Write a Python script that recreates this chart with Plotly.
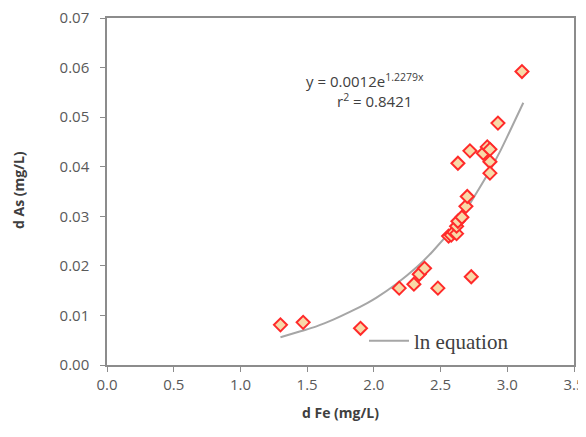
import plotly.graph_objects as go

# Observed data points (d Fe, d As)
fe = [1.30, 1.47, 1.90,
      2.19, 2.30, 2.34, 2.38, 2.48, 2.73,
      2.56, 2.58, 2.60, 2.62, 2.62, 2.63, 2.66, 2.69, 2.70,
      2.63, 2.72, 2.82, 2.85, 2.87, 2.87, 2.87,
      2.93, 3.11]
as_ = [0.0081, 0.0086, 0.0074,
       0.0155, 0.0163, 0.0183, 0.0195, 0.0155, 0.0178,
       0.0260, 0.0262, 0.0268, 0.0265, 0.0280, 0.0290, 0.0298, 0.0320, 0.0340,
       0.0407, 0.0432, 0.0427, 0.0440, 0.0435, 0.0410, 0.0387,
       0.0488, 0.0592]

# Trend line samples
trend_x = [1.30, 1.45, 1.57, 1.70, 1.82, 1.95, 2.02, 2.17, 2.32, 2.44, 2.59, 2.70, 2.78, 2.87, 2.95, 3.02, 3.12]
trend_y = [0.0056, 0.0068, 0.0078, 0.0092, 0.0107, 0.0125, 0.0136, 0.0164, 0.0197, 0.0229, 0.0276, 0.0317, 0.0352, 0.0393, 0.0433, 0.0472, 0.0529]

x_ticks = [0.0, 0.5, 1.0, 1.5, 2.0, 2.5, 3.0, 3.5]
x_tick_labels = ["0.0", "0.5", "1.0", "1.5", "2.0", "2.5", "3.0", "3.5"]
y_ticks = [0.00, 0.01, 0.02, 0.03, 0.04, 0.05, 0.06, 0.07]
y_tick_labels = ["0.00", "0.01", "0.02", "0.03", "0.04", "0.05", "0.06", "0.07"]

# target plot area in window pixels; page body has an 8px margin
OFF = 8
L, R, T, B = 107, 574, 18, 365
W, H = R - L, B - T
FIG_W, FIG_H = 586 - OFF, 437 - OFF

fig = go.Figure()
fig.add_trace(go.Scatter(
    x=trend_x, y=trend_y, mode="lines", name="ln equation",
    line=dict(color="#a6a6a6", width=2, shape="spline"),
    showlegend=True,
))
fig.add_trace(go.Scatter(
    x=fe, y=as_, mode="markers", name="data",
    marker=dict(symbol="diamond", size=10, color="#f8d9a8",
                line=dict(color="#ff2a2a", width=2)),
    showlegend=False,
))

axis_common = dict(
    showgrid=False, zeroline=False, showline=True, linecolor="#8c8c8c",
    linewidth=1.5, mirror=True, ticks="outside", ticklen=5, tickcolor="#8c8c8c",
    tickfont=dict(family="Open Sans", size=15, color="#595959"),
    automargin=False, ticklabeloverflow="allow",
)

fig.update_layout(
    width=FIG_W, height=FIG_H,
    margin=dict(l=L - OFF, r=FIG_W + OFF - R, t=T - OFF, b=FIG_H + OFF - B),
    plot_bgcolor="white", paper_bgcolor="white",
    xaxis=dict(range=[0, 3.5], tickvals=x_ticks, ticktext=x_tick_labels, **axis_common),
    yaxis=dict(range=[0, 0.07], tickvals=y_ticks, ticktext=y_tick_labels,
               ticklabelstandoff=8, **axis_common),
    legend=dict(x=(364 - L) / W, y=(B - 341) / H, xanchor="left", yanchor="middle",
                bgcolor="rgba(0,0,0,0)", itemwidth=40,
                font=dict(family="Liberation Serif", size=21, color="#404040")),
    showlegend=True,
)

title_font = dict(family="Open Sans", size=14, color="#404040")
fig.add_annotation(x=(340 - L) / W, y=(B - 412) / H, xref="paper", yref="paper",
                   xanchor="center", yanchor="middle",
                   text="<b>d Fe (mg/L)</b>", showarrow=False, font=title_font)
fig.add_annotation(x=(18 - L) / W, y=(B - 190) / H, xref="paper", yref="paper",
                   xanchor="center", yanchor="middle",
                   text="<b>d As (mg/L)</b>", showarrow=False, textangle=-90, font=title_font)

fig.add_annotation(x=(365 - L) / W, y=(B - 80) / H, xref="paper", yref="paper",
                   xanchor="center", yanchor="middle",
                   text="y = 0.0012e<sup>1.2279x</sup>", showarrow=False,
                   font=dict(family="Open Sans", size=15, color="#404040"))
fig.add_annotation(x=(374 - L) / W, y=(B - 101) / H, xref="paper", yref="paper",
                   xanchor="center", yanchor="middle",
                   text="r<sup>2</sup> = 0.8421", showarrow=False,
                   font=dict(family="Open Sans", size=15, color="#404040"))

fig.write_html("out.html")
